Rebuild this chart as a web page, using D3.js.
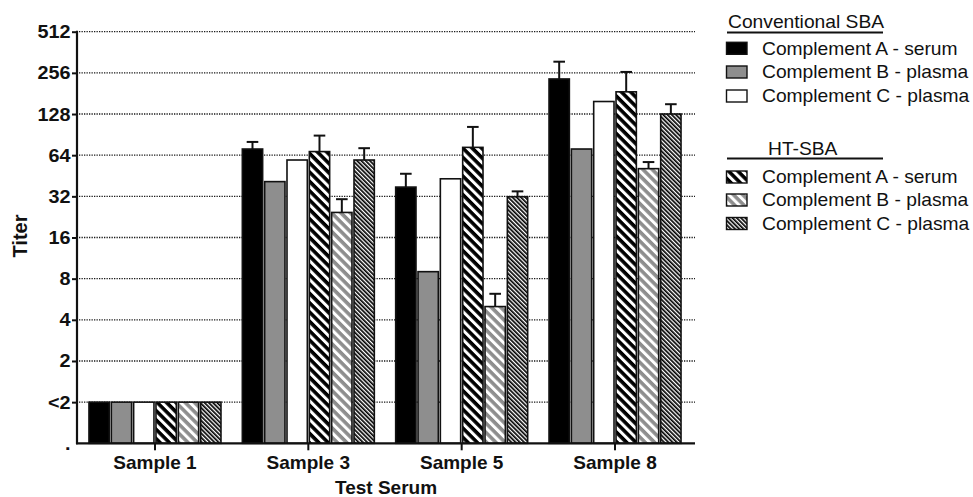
<!DOCTYPE html>
<html><head><meta charset="utf-8">
<script src="https://cdn.jsdelivr.net/npm/d3@7"></script>
<style>body{margin:0;background:#fff}svg{display:block}text{font-family:"Liberation Sans",Arial,Helvetica,sans-serif;fill:#111}</style>
</head><body><svg id="chart" width="973" height="497"></svg>
<script>
// ---- data ----
const samples = ["Sample 1", "Sample 3", "Sample 5", "Sample 8"];
const seriesKeys = ["convA", "convB", "convC", "htA", "htB", "htC"];
const groupTitles = ["Conventional SBA", "HT-SBA"];
const legendLabels = ["Complement A - serum", "Complement B - plasma", "Complement C - plasma"];
// titers (1 = "<2")
const convA = [1, 71, 37.4, 231];
const convB = [1, 41, 9.0, 71];
const convC = [1, 59, 43, 158];
const htA = [1, 68, 73, 186];
const htB = [1, 24.4, 5.0, 51];
const htC = [1, 59, 31.8, 128];
// upper end of error bars (null = none)
const convAErr = [null, 80, 46.8, 309];
const convBErr = [null, null, null, null];
const convCErr = [null, null, null, null];
const htAErr = [null, 89, 103, 260];
const htBErr = [null, 30.5, 6.2, 57];
const htCErr = [null, 72, 34.8, 151];
const tickValues = [0.5, 1, 2, 4, 8, 16, 32, 64, 128, 256, 512];
const tickLabels = [".", "<2", "2", "4", "8", "16", "32", "64", "128", "256", "512"];
const xTitle = "Test Serum";
const yTitle = "Titer";

const values = {convA, convB, convC, htA, htB, htC};
const errs = {convA: convAErr, convB: convBErr, convC: convCErr, htA: htAErr, htB: htBErr, htC: htCErr};

const svg = d3.select("#chart");
const defs = svg.append("defs");

function stripePattern(id, bg, fg, period, fgW) {
  const p = defs.append("pattern").attr("id", id).attr("patternUnits", "userSpaceOnUse")
    .attr("width", period).attr("height", period).attr("patternTransform", "rotate(-45)");
  p.append("rect").attr("width", period).attr("height", period).attr("fill", bg);
  p.append("rect").attr("width", fgW).attr("height", period).attr("fill", fg);
}
stripePattern("pA", "#000", "#fff", 6.6, 3.0);
stripePattern("pB", "#8e8e8e", "#fff", 6.6, 3.0);
stripePattern("pC", "#fff", "#000", 3.0, 1.7);

const fills = {convA: "#000", convB: "#8e8e8e", convC: "#fff", htA: "url(#pA)", htB: "url(#pB)", htC: "url(#pC)"};

// ---- scales ----
const y = d3.scaleLog().base(2).domain([0.5, 512]).range([443.3, 31.7]);
const xg = d3.scaleBand().domain(samples).range([78.3, 691.7]).padding(0);
const xs = d3.scaleBand().domain(seriesKeys).range([-66, 66]).paddingInner(0.09);

function sText(parent, x, yy, str, anchor, sx, size, weight) {
  const g = parent.append("g").attr("transform", `translate(${x},${yy}) scale(${sx},1)`);
  return g.append("text").attr("text-anchor", anchor).style("font-size", size + "px")
    .style("font-weight", weight).text(str);
}

// ---- gridlines ----
svg.append("g").selectAll("line").data(tickValues.filter(v => v >= 1)).join("line")
  .attr("x1", 79).attr("x2", 695).attr("y1", d => y(d)).attr("y2", d => y(d))
  .attr("stroke", "#1a1a1a").attr("stroke-width", 1.3).attr("stroke-dasharray", "1.3,1.2");

// ---- bars ----
const flat = [];
samples.forEach((s, j) => seriesKeys.forEach(k => flat.push({s, k, v: values[k][j], e: errs[k][j]})));
svg.append("g").selectAll("rect").data(flat).join("rect")
  .attr("x", d => xg(d.s) + xg.bandwidth() / 2 + xs(d.k))
  .attr("y", d => y(d.v))
  .attr("width", xs.bandwidth())
  .attr("height", d => y(0.5) - y(d.v))
  .attr("fill", d => fills[d.k]).attr("stroke", "#111").attr("stroke-width", 1.6);

// ---- error bars ----
const eg = svg.append("g").attr("stroke", "#111").attr("stroke-width", 2);
flat.filter(d => d.e != null).forEach(d => {
  const cx = xg(d.s) + xg.bandwidth() / 2 + xs(d.k) + xs.bandwidth() / 2;
  eg.append("line").attr("x1", cx).attr("x2", cx).attr("y1", y(d.v)).attr("y2", y(d.e));
  eg.append("line").attr("x1", cx - 5.8).attr("x2", cx + 5.8).attr("y1", y(d.e)).attr("y2", y(d.e));
});

// ---- axes ----
const yAxis = d3.axisLeft(y).tickValues(tickValues).tickFormat((d, i) => "").tickSize(5).tickSizeOuter(0);
const ya = svg.append("g").attr("transform", "translate(77,0)").call(yAxis);
ya.select(".domain").remove();
ya.selectAll(".tick line").attr("stroke", "#111").attr("stroke-width", 2);
ya.selectAll(".tick").filter(d => d === 0.5).select("line").remove();
svg.append("line").attr("x1", 77).attr("x2", 77).attr("y1", y(512) - 1).attr("y2", y(0.5) + 1)
  .attr("stroke", "#111").attr("stroke-width", 2.2);
tickValues.forEach((v, i) => {
  sText(svg, 70.5, y(v), tickLabels[i], "end", 1.1, 18, "bold").attr("dy", "0.36em");
});

const xAxis = d3.axisBottom(xg).tickSize(7).tickFormat(() => "").tickSizeOuter(0);
const xa = svg.append("g").attr("transform", `translate(0,${y(0.5)})`).call(xAxis);
xa.select(".domain").remove();
xa.selectAll(".tick line").attr("stroke", "#111").attr("stroke-width", 2);
svg.append("line").attr("x1", 76).attr("x2", 695).attr("y1", y(0.5)).attr("y2", y(0.5))
  .attr("stroke", "#111").attr("stroke-width", 2.2);
samples.forEach(s => {
  sText(svg, xg(s) + xg.bandwidth() / 2, 469, s, "middle", 1.0, 19, "bold");
});
sText(svg, 386, 494, xTitle, "middle", 1.0, 19, "bold");
svg.append("text").attr("transform", "translate(27,236) rotate(-90)").attr("text-anchor", "middle")
  .style("font-size", "20px").style("font-weight", "bold").text(yTitle);

// ---- legend ----
const lg = svg.append("g");
const legendGroups = [
  {title: groupTitles[0], tx: 728, ty: 28, uy: 32.5, keys: ["convA", "convB", "convC"], rows: [48.3, 72, 96]},
  {title: groupTitles[1], tx: 768, ty: 155, uy: 158.5, keys: ["htA", "htB", "htC"], rows: [177, 200, 223.5]}
];
legendGroups.forEach(gr => {
  sText(lg, gr.tx, gr.ty, gr.title, "start", 1.1, 17.5, "normal");
  lg.append("line").attr("x1", 727).attr("x2", 883).attr("y1", gr.uy).attr("y2", gr.uy)
    .attr("stroke", "#111").attr("stroke-width", 2);
  gr.keys.forEach((k, i) => {
    lg.append("rect").attr("x", 726.5).attr("y", gr.rows[i] - 6).attr("width", 20.5).attr("height", 12)
      .attr("fill", fills[k]).attr("stroke", "#111").attr("stroke-width", 1.4);
    sText(lg, 762, gr.rows[i] + 6.3, legendLabels[i], "start", 1.1, 17.5, "normal");
  });
});
</script></body></html>
